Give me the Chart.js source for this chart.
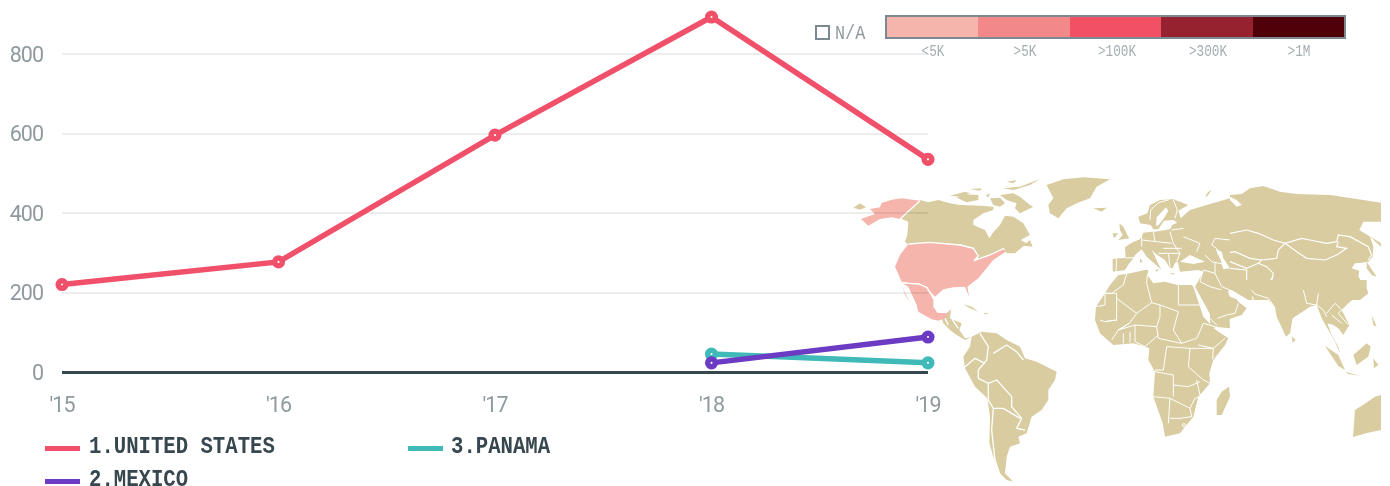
<!DOCTYPE html>
<html>
<head>
<meta charset="utf-8">
<title>Chart</title>
<script src="https://cdn.jsdelivr.net/npm/chart.js@4"></script>
<style>
  html, body { margin: 0; padding: 0; background: #fff; overflow: hidden; }
  #wrap { position: relative; width: 1390px; height: 486px; overflow: hidden; }
  #map { position: absolute; left: 0; top: 0; }
  #chart { position: absolute; left: 0; top: 0; }
  .key { position: absolute; height: 5px; width: 35px; }
  .name { position: absolute; font: bold 24px "Liberation Mono", monospace; color: #37474f; line-height: 24px; white-space: nowrap; transform: scaleX(.86); transform-origin: 0 0; }
  #scale { position: absolute; left: 885px; top: 15px; width: 457px; height: 20px; border: 2px solid #7b8a91; display: flex; }
  #scale div { flex: 1; }
  .lab { position: absolute; top: 42px; width: 92px; text-align: center; font: 16.5px "Liberation Mono", monospace; color: #a4adb1; transform: scaleX(.77); }
  #nabox { position: absolute; left: 815px; top: 25px; width: 11px; height: 11px; border: 2px solid #7b8a91; }
  #natxt { position: absolute; left: 835px; top: 22px; font: 21px "Liberation Mono", monospace; color: #8f9a9f; transform: scaleX(.8); transform-origin: 0 0; }
</style>
</head>
<body>
<div id="wrap">
  <svg id="map" width="1390" height="486">
    <defs><clipPath id="edge"><rect x="0" y="0" width="1381" height="486"/></clipPath></defs>
    <g clip-path="url(#edge)">
    <!-- north america, 3x from (850,175) -->
    <g transform="translate(850 175) scale(.33333)" fill="#d8cca0">
      <path d="M10 98L30 85 48 97 30 104Z"/>
      <path d="M210 75L150 130 175 140 172 180 165 200 175 210 240 203 330 208 370 218 385 252 395 248 430 235 462 220 470 235 495 235 530 205 512 195 540 180 520 145 490 125 465 122 450 150 430 172 418 190 405 165 370 150 370 135 400 115 430 105 430 95 395 92 330 90 300 85 265 75 235 82Z"/>
      <path d="M300 62L345 50 360 55 330 65ZM320 68L345 58 385 60 385 75 350 82ZM360 42L395 40 390 47ZM408 60L420 55 415 68ZM420 70L450 68 465 85 450 95 430 90ZM450 60L490 55 510 65 540 90 550 95 510 115 495 100 500 85 470 75ZM460 40L510 35 570 12 540 30 490 45ZM470 20L500 15 490 25ZM520 212L540 195 548 215ZM470 210L490 215 480 235Z"/>
    </g>
    <!-- greenland, usa, mexico, south america, 3x from (850,170) -->
    <g transform="translate(850 170) scale(.33333)" fill="#d8cca0">
      <path d="M590 45L640 28 700 22 780 28 740 50 720 85 680 100 650 115 625 145 600 130 595 105 610 85Z"/>
      <path d="M730 115L770 113 755 125Z"/>
      <path d="M275 445L303 420 300 445 335 460 328 480 345 505 365 500 345 510 320 495 300 480 280 460Z"/>
      <path d="M340 403L365 410 385 425 360 415ZM400 428L418 430 405 433Z"/>
      <path d="M365 500L395 485 440 490 470 510 510 530 525 565 560 575 620 605 615 630 595 660 595 690 575 720 545 740 530 790 505 800 510 820 480 830 470 860 465 910 490 935 470 930 445 905 430 860 418 820 420 740 412 685 375 650 345 595 340 560 360 530Z"/>
      <path fill="#f5b5ad" d="M210 92L150 147 125 142 90 147 55 167 33 147 75 132 60 117 90 112 95 99 125 89 155 85Z"/>
      <path fill="#f5b5ad" d="M175 222L240 217 330 225 370 235 385 258 372 272 420 255 460 235 467 245 430 270 405 300 385 325 352 350 358 382 345 350 310 352 280 358 255 380 240 365 232 352 205 340 175 338 155 335 135 290 150 255Z"/>
      <path fill="#f5b5ad" d="M155 338L175 342 205 342 230 352 242 370 250 390 250 410 262 428 290 430 305 415 285 445 265 452 245 448 205 425 200 405 175 350ZM155 340L165 375 180 395 165 370Z"/>
      <g fill="none" stroke="#fff" stroke-width="4">
        <path d="M210 92L150 147M175 222L240 217 330 225 370 235 385 258 372 272 420 255 462 235"/>
        <path d="M155 338L175 340 205 342 230 352 242 370 250 385"/>
        <path d="M285 445L295 465M305 445L325 475"/>
        <path d="M390 490L415 530 410 570 385 600 385 625 415 640 415 690 430 715 425 780 435 870 450 915"/>
        <path d="M430 550L470 525 500 545 520 570M340 595L375 565 405 580M415 640L440 630 485 680 485 710 515 745 500 775 525 780M430 715L460 715 510 745"/>
      </g>
    </g>
    <!-- asia north, 3x from (1230,180) -->
    <g transform="translate(1230 180) scale(.33333)" fill="#d8cca0">
      <path d="M0 45L35 42 60 25 100 18 150 35 200 42 300 45 400 60 453 68 453 125 400 125 388 150 453 190 453 200 420 170 430 200 428 230 415 245 395 248 375 250 365 265 388 272 385 290 410 325 415 340 390 360 55 360 5 330 0 330Z"/>
      <path d="M410 245L440 290 425 285 410 265Z"/>
      <path fill="#fff" d="M0 50L20 60 35 75 20 80 0 60Z"/>
      <g fill="none" stroke="#fff" stroke-width="3.5">
        <path d="M0 160L50 150 85 160 130 180 165 190 215 175 240 180 290 190 320 185 325 165 360 170 415 200 425 225 415 240"/>
        <path d="M165 190L200 215 230 235 285 240 320 225 350 205 320 200 325 185"/>
        <path d="M165 190L145 210 140 235 95 240 60 235 15 215 0 218M0 245L50 265 85 250 95 240M85 250L110 260 130 280 125 300 170 320 215 340 250 330 280 340"/>
        <path d="M0 265L50 270 50 310 65 325 110 315 130 290M130 300L115 340 110 360M50 310L60 325 70 360"/>
      </g>
    </g>
    <!-- europe and middle east, 3x from (1090,190) -->
    <g transform="translate(1090 190) scale(.33333)" fill="#d8cca0">
      <path d="M68 240L68 208 85 205 107 204 105 172 125 158 150 148 160 128 185 125 195 125 240 118 247 105 262 98 250 90 222 92 205 118 190 118 182 105 150 100 145 80 172 70 180 45 210 30 250 28 295 45 265 62 272 85 300 60 350 45 420 25 420 300 415 302 420 415 381 411 315 290 340 245 325 240 270 245 265 222 262 215 255 218 248 235 238 232 225 210 195 190 185 178 205 222 215 240 195 222 170 200 155 178 135 195 130 205 118 220 105 240 70 245Z"/>
      <path fill="#fff" d="M270 215L300 195 345 215 310 222ZM378 178L395 185 400 205 420 235 400 238 392 210ZM200 82L228 52 235 62 222 85 206 105 198 108Z"/>
      <path d="M88 100L100 110 112 135 118 145 85 150 98 135 90 120ZM68 130L85 130 72 145ZM150 205L158 215 150 218ZM195 240L208 238 200 245ZM240 250L255 250 248 254ZM345 20L355 5 365 0 352 18Z"/>
      <g fill="none" stroke="#fff" stroke-width="3">
        <path d="M180 90L182 60 205 38 235 30M250 30L262 60 255 85M245 120L280 115M240 125L250 160M190 125L195 155M155 130L155 170M155 150L245 160M280 140L330 160 320 185M250 160L270 190"/>
        <path d="M107 204L135 203M80 207L78 245M205 190L270 190 260 215M220 175L275 175M235 190L240 230"/>
        <path d="M345 195L365 215 410 225M420 150L375 145 365 165 380 175 385 195M340 240L375 250 375 215M340 240L330 275M330 275L360 290 395 300M375 250L395 290 420 300"/>
      </g>
    </g>
    <!-- south asia, 3x from (1210,290) -->
    <g transform="translate(1210 290) scale(.33333)" fill="#d8cca0">
      <path d="M0 0L50 0 60 20 80 28 85 35 110 55 95 75 65 85 22 105 8 118 0 100Z"/>
      <path d="M70 -30L100 0 118 18 175 30 195 50 200 80 228 140 240 130 248 85 300 50 320 45 335 85 358 125 375 155 390 190 385 170 365 135 352 100 370 105 385 115 400 135 418 105 395 60 415 40 470 -5 470 -30Z"/>
      <path d="M245 138L257 150 248 158ZM345 168L385 195 405 240 385 228ZM405 245L450 257 415 252ZM430 195L470 160 482 170 475 200 440 225ZM490 205L505 225 492 235ZM485 75L500 110 490 105Z"/>
      <path d="M513 315L495 320 459 345 435 360 429 441 471 429 513 420Z"/>
      <g fill="none" stroke="#fff" stroke-width="3">
        <path d="M22 85L50 75 75 70 85 40M0 85L20 105M125 0L135 12 175 25 190 45M280 0L290 40 320 45 325 10M320 45L340 60 350 80M350 70L375 40 395 60 385 70 415 105M365 75L395 100"/>
      </g>
    </g>
    <!-- africa, 3x from (1090,270) -->
    <g transform="translate(1090 270) scale(.33333)" fill="#d8cca0">
      <path d="M60 45L85 15 110 12 165 0 175 0 172 15 190 40 225 35 262 45 305 45 310 50 340 140 375 178 390 188 415 205 405 225 370 270 358 310 360 340 325 380 310 440 270 490 225 500 218 460 190 380 195 305 175 270 178 235 130 220 70 225 30 190 15 150 18 110 45 70Z"/>
      <path d="M417 350L420 380 395 435 380 435 380 390 395 365Z"/>
      <g fill="none" stroke="#fff" stroke-width="3">
        <path d="M65 70L100 45 110 12M65 70L45 70 45 105 18 110M45 70L80 70 80 150 45 155 30 150M80 85L140 130 185 98 170 40 172 15M265 45L265 105M185 98L210 105 265 125M265 105L335 105M265 125L250 180 275 220 320 205 325 195 340 160 375 170"/>
        <path d="M210 105L210 140 200 170 205 205M140 130L118 160 85 180 135 165 200 170M80 150L45 155M118 160L85 180 65 210M135 165L135 215 165 230 205 195M100 190L100 220M120 185L120 218M205 205L275 220M230 230L220 300 195 300M230 230L300 235 330 235 370 235 368 268M300 235L295 290 340 330 360 340"/>
        <path d="M195 305L250 315 250 345 295 350 330 335M190 380L240 385 235 460M240 385L300 415 315 385 330 380M300 415L305 440 270 445 240 445M325 225L370 235 405 205M320 330L330 375M250 380L250 345"/>
        <circle cx="282" cy="466" r="5"/>
      </g>
    </g>
    </g>
  </svg>
  <canvas id="chart" width="1390" height="486"></canvas>

  <div id="nabox"></div>
  <div id="natxt">N/A</div>
  <div id="scale"></div>
  <div id="labs"></div>

  <div class="key" style="left:45px;top:446px;background:#f0506a"></div>
  <div class="name" style="left:89px;top:435px">1.UNITED STATES</div>
  <div class="key" style="left:408px;top:446px;background:#3fbab8"></div>
  <div class="name" style="left:451px;top:435px">3.PANAMA</div>
  <div class="key" style="left:45px;top:479px;background:#6c3bc4"></div>
  <div class="name" style="left:89px;top:468px">2.MEXICO</div>
</div>

<script>
const years = ["'15", "'16", "'17", "'18", "'19"];
const unitedStates = [220, 277, 596, 893, 535];
const panama = [null, null, null, 45, 23];
const mexico = [null, null, null, 23, 88];
const yTicks = [0, 200, 400, 600, 800];

const scaleLabels = ['<5K', '>5K', '>100K', '>300K', '>1M'];
const scaleColors = ['#f5b5ad', '#f2888a', '#f25064', '#96222f', '#4f0008'];
const scaleCenters = [933, 1025, 1117, 1208, 1299];

scaleColors.forEach(c => {
  const d = document.createElement('div');
  d.style.background = c;
  document.getElementById('scale').appendChild(d);
});
scaleLabels.forEach((t, i) => {
  const d = document.createElement('div');
  d.className = 'lab';
  d.style.left = (scaleCenters[i] - 46) + 'px';
  d.textContent = t;
  document.getElementById('labs').appendChild(d);
});

function lineSet(label, data, color) {
  return {
    label, data, borderColor: color, borderWidth: 5.5,
    pointBackgroundColor: '#fff', pointBorderColor: color,
    pointRadius: 3.8, pointBorderWidth: 5.5, tension: 0, clip: false, spanGaps: false
  };
}

// the original face is narrower than anything installed, so squeeze the tick text a bit
const tightText = {
  id: 'tightText',
  beforeDraw(chart) { chart.ctx.letterSpacing = '-1px'; }
};

new Chart(document.getElementById('chart'), {
  type: 'line',
  data: {
    labels: years,
    datasets: [
      lineSet('Mexico', mexico, '#6c3bc4'),
      lineSet('Panama', panama, '#3fbab8'),
      lineSet('United States', unitedStates, '#f0506a')
    ]
  },
  plugins: [tightText],
  options: {
    responsive: false,
    animation: false,
    layout: { padding: { left: 0, right: 462, top: 14.25, bottom: 54 } },
    plugins: { legend: { display: false }, tooltip: { enabled: false } },
    scales: {
      x: {
        offset: false,
        grid: { display: false },
        border: { display: false },
        afterFit: s => { s.height = 60; s.paddingLeft = 0; s.paddingRight = 0; },
        ticks: { color: '#8f9a9f', font: { family: 'Roboto', size: 21.5 }, padding: 14, maxRotation: 0, autoSkip: false }
      },
      y: {
        min: 0, max: 900,
        afterFit: s => { s.width = 62; s.paddingTop = 0; s.paddingBottom = 0; },
        afterBuildTicks: s => { s.ticks = yTicks.map(value => ({ value })); },
        border: { display: false },
        grid: {
          drawTicks: false,
          color: c => c.tick.value === 0 ? '#37474f' : 'rgba(0,0,0,0.07)',
          lineWidth: c => c.tick.value === 0 ? 3 : 2
        },
        ticks: { color: '#8f9a9f', font: { family: 'Roboto', size: 21.5 }, padding: 19, labelOffset: 2.5 }
      }
    }
  }
});
</script>
</body>
</html>
